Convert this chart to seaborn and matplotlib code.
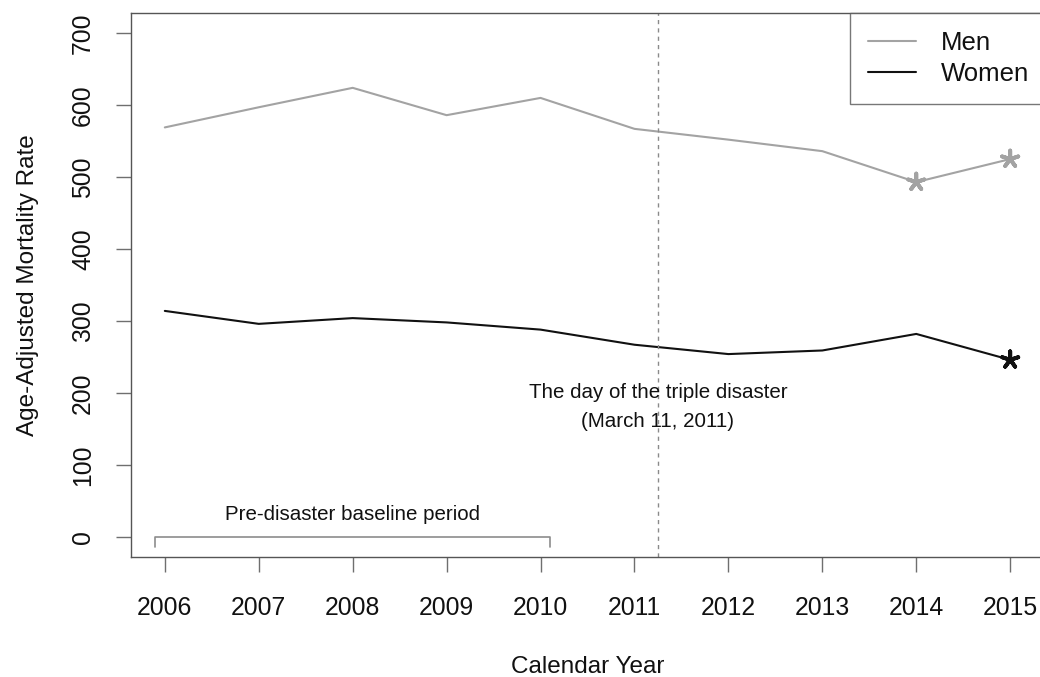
import matplotlib
matplotlib.use("Agg")
import matplotlib.pyplot as plt
import seaborn as sns
import pandas as pd

# Age-adjusted mortality rates by calendar year
years = [2006, 2007, 2008, 2009, 2010, 2011, 2012, 2013, 2014, 2015]
men_rate = [569, 597, 624, 586, 610, 567, 552, 536, 493, 525]
women_rate = [314, 296, 304, 298, 288, 267, 254, 259, 282, 246]

# Years flagged as significantly different from the baseline
men_flagged = [2014, 2015]
women_flagged = [2015]

series_names = ["Men", "Women"]
series_colors = {"Men": "#a3a3a3", "Women": "#111111"}

disaster_date = 2011.25
baseline_start, baseline_end = 2005.9, 2010.1
y_ticks = [0, 100, 200, 300, 400, 500, 600, 700]

df = pd.DataFrame({
    "year": years * 2,
    "rate": men_rate + women_rate,
    "sex": ["Men"] * len(years) + ["Women"] * len(years),
})
flag_df = pd.DataFrame({
    "year": men_flagged + women_flagged,
    "rate": [men_rate[years.index(y)] for y in men_flagged]
            + [women_rate[years.index(y)] for y in women_flagged],
    "sex": ["Men"] * len(men_flagged) + ["Women"] * len(women_flagged),
})

sns.set_theme(style="white")
plt.rcParams["font.family"] = ["Liberation Sans", "DejaVu Sans"]

W, H = 1040, 677
fig = plt.figure(figsize=(W / 100, H / 100), dpi=100)
ax = fig.add_axes([131 / W, 1 - 557 / H, (1044 - 131) / W, (557 - 13) / H])

sns.lineplot(data=df, x="year", y="rate", hue="sex", hue_order=series_names,
             palette=series_colors, linewidth=1.5, ax=ax, legend=False)
sns.scatterplot(data=flag_df, x="year", y="rate", hue="sex", hue_order=series_names,
                palette=series_colors, marker=(5, 2, 0), s=150, linewidth=2.8,
                ax=ax, legend=False, zorder=5)

# Date of the triple disaster
ax.axvline(disaster_date, color="#8a8a8a", linewidth=1.0, linestyle=(0, (3, 3)))
ax.text(disaster_date, 201, "The day of the triple disaster", ha="center",
        va="center", fontsize=14.8, color="#111111")
ax.text(disaster_date, 160, "(March 11, 2011)", ha="center", va="center",
        fontsize=14.8, color="#111111")

# Baseline period bracket
ax.plot([baseline_start, baseline_start, baseline_end, baseline_end],
        [-14, 0, 0, -14], color="#8c8c8c", linewidth=1.2)
ax.text((baseline_start + baseline_end) / 2, 31, "Pre-disaster baseline period",
        ha="center", va="center", fontsize=14.8, color="#111111")

ax.set_xlim(2006 - 0.36, 2015 + 0.36)
ax.set_ylim(-28, 728)
ax.set_xticks(years)
ax.set_xticklabels([str(y) for y in years])
ax.set_yticks(y_ticks)
ax.set_yticklabels([str(v) for v in y_ticks], rotation=90, va="center")
ax.tick_params(axis="both", which="major", direction="out", length=10.8, width=1.0,
               color="#6f6f6f", labelsize=17.8, labelcolor="#111111")
ax.tick_params(axis="x", pad=17)
ax.tick_params(axis="y", pad=15)
ax.tick_params(left=True, bottom=True)

for side in ["left", "right", "top", "bottom"]:
    ax.spines[side].set_visible(True)
    ax.spines[side].set_color("#555555")
    ax.spines[side].set_linewidth(1.0)

ax.set_xlabel("Calendar Year", fontsize=17.5, color="#111111", labelpad=26)
ax.set_ylabel("Age-Adjusted Mortality Rate", fontsize=17.5, color="#111111", labelpad=23)
ax.grid(False)

handles = [plt.Line2D([], [], color=series_colors[n], linewidth=1.5) for n in series_names]
leg = ax.legend(handles, series_names, loc="upper right",
                bbox_to_anchor=(1 + 3 / 913, 1), borderaxespad=0,
                fontsize=18.5, frameon=True, fancybox=False,
                handlelength=1.9, handletextpad=0.95, borderpad=0.7, labelspacing=0.28)
leg.get_frame().set_edgecolor("#555555")
leg.get_frame().set_linewidth(1.0)
for t in leg.get_texts():
    t.set_color("#111111")

fig.savefig("out.png", dpi=100)
